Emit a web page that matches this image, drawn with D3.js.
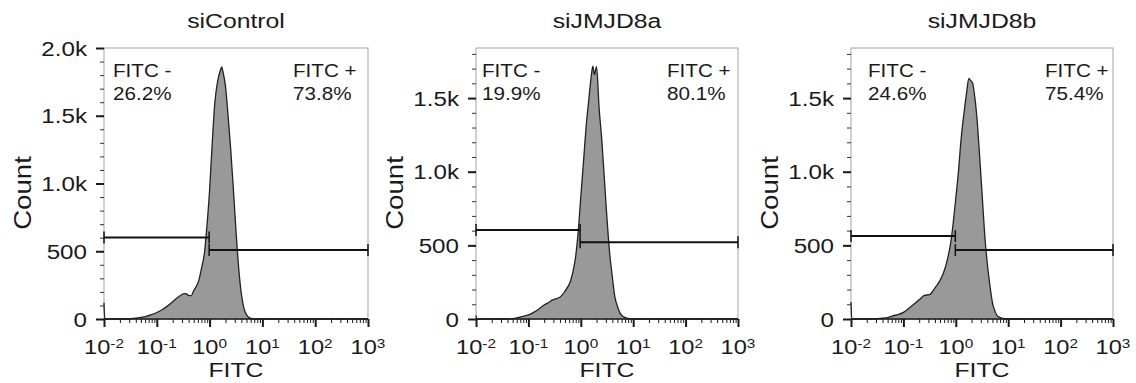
<!DOCTYPE html>
<html>
<head>
<meta charset="utf-8">
<script src="https://cdn.jsdelivr.net/npm/d3@7"></script>
<style>
  body { margin: 0; background: #fff; }
  svg { display: block; }
  text { font-family: "Liberation Sans", Arial, sans-serif; fill: #1a1a1a; }
</style>
</head>
<body>
<div id="chart"></div>
<script>
// panel names and gate percentages
var titles = ['siControl', 'siJMJD8a', 'siJMJD8b'];
var negPct = ['26.2%', '19.9%', '24.6%'];
var posPct = ['73.8%', '80.1%', '75.4%'];

// histogram values: FITC as log10 exponent, count per bin
var ctrlExp = [-2, -1.985, -1.6, -1.5, -1.4, -1.3, -1.2, -1.1, -1.0, -0.9, -0.8, -0.7, -0.6, -0.5, -0.45, -0.4, -0.35, -0.3, -0.2, -0.15, -0.1, -0.05, 0.0, 0.05, 0.1, 0.15, 0.2, 0.23, 0.25, 0.3, 0.35, 0.4, 0.45, 0.5, 0.55, 0.6, 0.65, 0.7, 0.75, 0.8, 0.9, 1.0, 3.0];
var ctrlCount = [120, 0, 0, 2, 6, 12, 20, 32, 48, 68, 95, 128, 160, 185, 188, 175, 172, 210, 290, 380, 480, 690, 950, 1300, 1600, 1750, 1830, 1860, 1830, 1720, 1500, 1250, 960, 650, 380, 190, 80, 30, 10, 3, 0, 0, 0];

var jmjaExp = [-2, -1.985, -1.4, -1.3, -1.2, -1.1, -1.0, -0.9, -0.8, -0.7, -0.6, -0.55, -0.5, -0.45, -0.4, -0.35, -0.3, -0.2, -0.15, -0.1, -0.05, 0.0, 0.05, 0.1, 0.15, 0.2, 0.23, 0.26, 0.3, 0.35, 0.4, 0.45, 0.5, 0.55, 0.6, 0.65, 0.7, 0.75, 0.8, 0.9, 1.0, 3.0];
var jmjaCount = [25, 0, 0, 3, 10, 18, 28, 45, 68, 95, 115, 128, 135, 140, 148, 165, 190, 255, 320, 420, 590, 830, 1060, 1300, 1480, 1650, 1716, 1660, 1714, 1430, 1218, 950, 680, 450, 290, 150, 85, 40, 18, 4, 0, 0];

var jmjbExp = [-2, -1.985, -1.6, -1.5, -1.4, -1.3, -1.2, -1.1, -1.0, -0.9, -0.8, -0.7, -0.6, -0.5, -0.4, -0.3, -0.2, -0.15, -0.1, -0.05, 0.0, 0.05, 0.1, 0.15, 0.2, 0.25, 0.28, 0.32, 0.35, 0.4, 0.45, 0.5, 0.55, 0.6, 0.65, 0.7, 0.75, 0.8, 0.9, 1.0, 3.0];
var jmjbCount = [115, 0, 0, 2, 5, 10, 22, 30, 45, 72, 100, 130, 160, 166, 210, 262, 350, 420, 510, 650, 820, 1000, 1216, 1380, 1520, 1633, 1620, 1603, 1540, 1380, 1130, 860, 580, 380, 230, 110, 50, 18, 4, 0, 0];

var histExp = [ctrlExp, jmjaExp, jmjbExp];
var histCount = [ctrlCount, jmjaCount, jmjbCount];

// axes
var yMax = [2000, 1840, 1840];
var yTickVals = [[0, 500, 1000, 1500, 2000], [0, 500, 1000, 1500], [0, 500, 1000, 1500]];
var yTickLabels = [['0', '500', '1.0k', '1.5k', '2.0k'], ['0', '500', '1.0k', '1.5k'], ['0', '500', '1.0k', '1.5k']];
var xTickVals = [1e-2, 1e-1, 1e0, 1e1, 1e2, 1e3];
var xTickExp = ['-2', '-1', '0', '1', '2', '3'];

// gates: split point and count level of each bar
var gateSplit = [0.98, 0.97, 0.98];
var gateNegLevel = [602, 605, 563];
var gatePosLevel = [509, 521, 468];

// layout
var W = 1136, H = 383;
var plotLeft = [104, 476, 851];
var plotRight = [368, 738, 1113];
var plotTop = 48, plotBottom = 319;
var negLabelDx = [9, 6, 17];
var posLabelDx = [75, 71, 68];
var SX = 1.18; // text in the figure is a bit wider than Arial

var svg = d3.select('#chart').append('svg').attr('width', W).attr('height', H);

// places a text with horizontal stretch
function stext(g, x, y, str, size, anchor) {
  return g.append('text')
    .attr('transform', 'translate(' + x + ',' + y + ') scale(' + SX + ',1)')
    .attr('text-anchor', anchor || 'start')
    .style('font-size', size + 'px')
    .text(str);
}

titles.forEach(function (title, p) {
  var g = svg.append('g');
  var x = d3.scaleLog().domain([1e-2, 1e3]).range([plotLeft[p], plotRight[p]]);
  var y = d3.scaleLinear().domain([0, yMax[p]]).range([plotBottom, plotTop]);
  var cx = (plotLeft[p] + plotRight[p]) / 2;

  // frame
  g.append('rect')
    .attr('x', plotLeft[p]).attr('y', plotTop)
    .attr('width', plotRight[p] - plotLeft[p]).attr('height', plotBottom - plotTop)
    .attr('fill', 'none').attr('stroke', '#a3a3a3').attr('stroke-width', 1);

  // histogram
  var pts = histExp[p].map(function (e, i) { return [Math.pow(10, e), histCount[p][i]]; });
  var area = d3.area().x(function (d) { return x(d[0]); }).y0(y(0)).y1(function (d) { return y(d[1]); })
    .curve(d3.curveMonotoneX);
  var line = d3.line().x(function (d) { return x(d[0]); }).y(function (d) { return y(d[1]); })
    .curve(d3.curveMonotoneX);
  g.append('path').datum(pts).attr('d', area).attr('fill', '#999999');
  g.append('path').datum(pts).attr('d', line).attr('fill', 'none').attr('stroke', '#222').attr('stroke-width', 1.3);

  // bottom line
  g.append('line').attr('x1', plotLeft[p]).attr('x2', plotRight[p]).attr('y1', plotBottom).attr('y2', plotBottom)
    .attr('stroke', '#1a1a1a').attr('stroke-width', 1.5);

  // x axis: major and minor ticks
  var minor = [];
  for (var k = -2; k < 3; k++) {
    for (var m = 2; m <= 9; m++) minor.push(m * Math.pow(10, k));
  }
  var xMinor = g.append('g').attr('transform', 'translate(0,' + plotBottom + ')')
    .call(d3.axisBottom(x).tickValues(minor).tickSize(4).tickFormat(''));
  var xMajor = g.append('g').attr('transform', 'translate(0,' + plotBottom + ')')
    .call(d3.axisBottom(x).tickValues(xTickVals).tickSize(8).tickFormat(''));
  xMinor.select('.domain').remove();
  xMajor.select('.domain').remove();
  xMinor.selectAll('line').attr('stroke', '#1a1a1a').attr('stroke-width', 1);
  xMajor.selectAll('line').attr('stroke', '#1a1a1a').attr('stroke-width', 2);

  xTickVals.forEach(function (v, i) {
    var t = g.append('text')
      .attr('transform', 'translate(' + x(v) + ',' + (plotBottom + 35) + ') scale(' + SX + ',1)')
      .attr('text-anchor', 'middle')
      .style('font-size', '20px');
    t.append('tspan').text('10');
    t.append('tspan').attr('dy', -6).style('font-size', '13px').text(xTickExp[i]);
  });
  stext(g, cx, plotBottom + 58, 'FITC', 21, 'middle');

  // y axis
  var yMinorVals = d3.range(0, yMax[p] + 1, 100);
  var yMinorAxis = g.append('g').attr('transform', 'translate(' + plotLeft[p] + ',0)')
    .call(d3.axisLeft(y).tickValues(yMinorVals).tickSize(4).tickFormat(''));
  var yMajorAxis = g.append('g').attr('transform', 'translate(' + plotLeft[p] + ',0)')
    .call(d3.axisLeft(y).tickValues(yTickVals[p]).tickSize(8).tickFormat(''));
  yMinorAxis.select('.domain').remove();
  yMajorAxis.select('.domain').remove();
  yMinorAxis.selectAll('line').attr('stroke', '#333').attr('stroke-width', 1);
  yMajorAxis.selectAll('line').attr('stroke', '#1a1a1a').attr('stroke-width', 2);

  yTickVals[p].forEach(function (v, i) {
    stext(g, plotLeft[p] - 17, y(v) + 7.5, yTickLabels[p][i], 20.5, 'end');
  });

  g.append('text')
    .attr('transform', 'translate(' + (plotLeft[p] - 81 + 8) + ',' + 193 + ') rotate(-90) scale(1.2,1)')
    .attr('text-anchor', 'middle')
    .style('font-size', '23px')
    .text('Count');

  // title
  stext(g, cx, 28, title, 21, 'middle');

  // gates
  var gates = [
    { x1: 1e-2, x2: gateSplit[p], lvl: gateNegLevel[p] },
    { x1: gateSplit[p], x2: 1e3, lvl: gatePosLevel[p] }
  ];
  gates.forEach(function (gt) {
    var yy = y(gt.lvl);
    g.append('line').attr('x1', x(gt.x1)).attr('x2', x(gt.x2)).attr('y1', yy).attr('y2', yy)
      .attr('stroke', '#111').attr('stroke-width', 2);
    [gt.x1, gt.x2].forEach(function (xv) {
      g.append('line').attr('x1', x(xv)).attr('x2', x(xv)).attr('y1', yy - 6).attr('y2', yy + 6)
        .attr('stroke', '#111').attr('stroke-width', 1.5);
    });
  });

  // gate labels
  stext(g, plotLeft[p] + negLabelDx[p], 77, 'FITC -', 17.5);
  stext(g, plotLeft[p] + negLabelDx[p], 100, negPct[p], 17.5);
  stext(g, plotRight[p] - posLabelDx[p], 77, 'FITC +', 17.5);
  stext(g, plotRight[p] - posLabelDx[p], 100, posPct[p], 17.5);
});
</script>
</body>
</html>
